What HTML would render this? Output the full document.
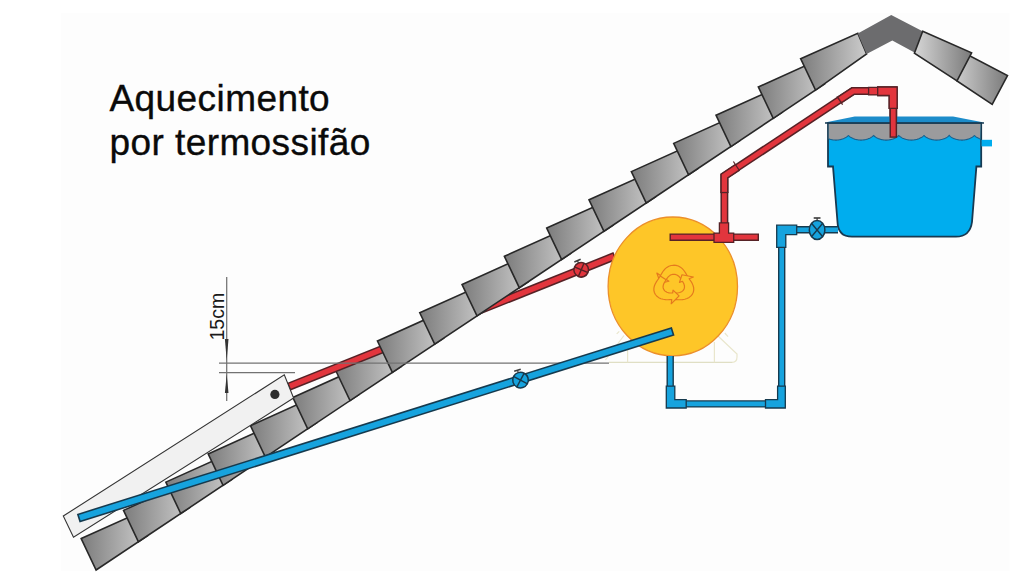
<!DOCTYPE html>
<html><head><meta charset="utf-8"><style>
html,body{margin:0;padding:0;background:#ffffff;overflow:hidden}
svg{display:block}
</style></head><body>
<svg width="1024" height="576" viewBox="0 0 1024 576"><defs>
<linearGradient id="tl" x1="0" y1="0" x2="1" y2="0">
<stop offset="0" stop-color="#7c7c7c"/><stop offset="1" stop-color="#cccccc"/></linearGradient>
<linearGradient id="tr" x1="0" y1="0" x2="1" y2="0">
<stop offset="0" stop-color="#d6d6d6"/><stop offset="1" stop-color="#7a7a7a"/></linearGradient>
</defs>
<rect x="0" y="0" width="1024" height="576" fill="#ffffff"/>
<rect x="61" y="13" width="948.5" height="558" fill="#fdfdfd"/>
<polygon points="81.20,538.60 138.60,512.80 147.50,535.70 96.10,570.00" fill="url(#tl)" stroke="#282828" stroke-width="1.6"/>
<polygon points="123.52,510.37 180.92,484.57 189.82,507.47 138.42,541.77" fill="url(#tl)" stroke="#282828" stroke-width="1.6"/>
<polygon points="165.84,482.14 223.24,456.34 232.14,479.24 180.74,513.54" fill="url(#tl)" stroke="#282828" stroke-width="1.6"/>
<polygon points="208.16,453.91 265.56,428.11 274.46,451.01 223.06,485.31" fill="url(#tl)" stroke="#282828" stroke-width="1.6"/>
<polygon points="250.48,425.68 307.88,399.88 316.78,422.78 265.38,457.08" fill="url(#tl)" stroke="#282828" stroke-width="1.6"/>
<polygon points="292.80,397.45 350.20,371.65 359.10,394.55 307.70,428.85" fill="url(#tl)" stroke="#282828" stroke-width="1.6"/>
<polygon points="335.12,369.22 392.52,343.42 401.42,366.32 350.02,400.62" fill="url(#tl)" stroke="#282828" stroke-width="1.6"/>
<line x1="288.50" y1="386.80" x2="615.00" y2="256.00" stroke="#562226" stroke-width="8.4"/>
<line x1="289.80" y1="386.28" x2="613.70" y2="256.52" stroke="#e2353d" stroke-width="5.3"/>
<polygon points="377.44,340.99 434.84,315.19 443.74,338.09 392.34,372.39" fill="url(#tl)" stroke="#282828" stroke-width="1.6"/>
<polygon points="419.76,312.76 477.16,286.96 486.06,309.86 434.66,344.16" fill="url(#tl)" stroke="#282828" stroke-width="1.6"/>
<polygon points="462.08,284.53 519.48,258.73 528.38,281.63 476.98,315.93" fill="url(#tl)" stroke="#282828" stroke-width="1.6"/>
<polygon points="504.40,256.30 561.80,230.50 570.70,253.40 519.30,287.70" fill="url(#tl)" stroke="#282828" stroke-width="1.6"/>
<polygon points="546.72,228.07 604.12,202.27 613.02,225.17 561.62,259.47" fill="url(#tl)" stroke="#282828" stroke-width="1.6"/>
<polygon points="589.04,199.84 646.44,174.04 655.34,196.94 603.94,231.24" fill="url(#tl)" stroke="#282828" stroke-width="1.6"/>
<polygon points="631.36,171.61 688.76,145.81 697.66,168.71 646.26,203.01" fill="url(#tl)" stroke="#282828" stroke-width="1.6"/>
<polygon points="673.68,143.38 731.08,117.58 739.98,140.48 688.58,174.78" fill="url(#tl)" stroke="#282828" stroke-width="1.6"/>
<polygon points="716.00,115.15 773.40,89.35 782.30,112.25 730.90,146.55" fill="url(#tl)" stroke="#282828" stroke-width="1.6"/>
<polygon points="758.32,86.92 815.72,61.12 824.62,84.02 773.22,118.32" fill="url(#tl)" stroke="#282828" stroke-width="1.6"/>
<polygon points="800.64,58.69 857.80,33.20 866.60,54.00 815.54,90.09" fill="url(#tl)" stroke="#282828" stroke-width="1.6"/>
<polygon points="857.80,33.40 891.25,15.00 922.60,31.25 914.50,52.60 892.30,40.60 866.60,54.00" fill="#6c6c6e"/>
<polygon points="950.00,45.50 1007.50,75.50 992.20,104.40 957.00,80.90" fill="url(#tr)" stroke="#282828" stroke-width="1.6"/>
<polygon points="922.70,31.25 971.60,52.80 957.00,80.90 914.40,53.10" fill="url(#tr)" stroke="#282828" stroke-width="1.6"/>
<polygon points="63.30,516.00 284.30,374.90 293.60,398.00 73.50,537.30" fill="#f1f1f1" stroke="#333" stroke-width="1.1"/>
<circle cx="274.9" cy="394.4" r="4.6" fill="#2e2e2e"/>
<g stroke="#727272" stroke-width="1.25"><line x1="226.7" y1="277" x2="226.7" y2="401"/><line x1="219" y1="363.0" x2="609" y2="363.0"/><line x1="219" y1="372.7" x2="295" y2="372.7"/></g>
<polygon points="224.9,339 228.5,339 226.7,360.5" fill="#333"/>
<polygon points="224.9,393 228.5,393 226.7,374.3" fill="#333"/>
<text x="0" y="0" transform="translate(224.2,340.6) rotate(-90)" font-family="Liberation Sans, sans-serif" font-size="19.6" fill="#1a1a1a">15cm</text>
<line x1="609" y1="362.3" x2="732" y2="362.3" stroke="#e0dfc4" stroke-width="1.3"/>
<g stroke="#e9e6cc" stroke-width="1.2" fill="none"><path d="M732,362.3 Q737,362.3 737,357 L737,354 L718,336"/><line x1="605.4" y1="360" x2="624" y2="335.5"/><line x1="627.6" y1="343" x2="627.6" y2="362.3"/><line x1="714.4" y1="342" x2="714.4" y2="362.3"/><line x1="724.8" y1="333" x2="728" y2="336.7"/><line x1="616.7" y1="333.9" x2="619.3" y2="331.3"/></g>
<ellipse cx="672.8" cy="286.4" rx="64.7" ry="69.4" fill="#fec628" stroke="#ec8f2a" stroke-width="1.3"/>
<g transform="translate(673.8,284.6) scale(1.1,1.0)" fill="#fec628" stroke="#e57a1e" stroke-width="1.1" stroke-linejoin="round"><path d="M13.63,-6.36 L12.76,-7.83 L11.93,-9.36 L11.09,-10.96 L10.15,-12.64 L9.03,-14.33 L7.67,-15.96 L6.03,-17.39 L4.12,-18.52 L2.02,-19.22 L-0.19,-19.43 L-2.39,-19.13 L-4.46,-18.35 L-6.32,-17.17 L-7.92,-15.69 L-9.24,-14.05 L-10.32,-12.35 L-11.24,-10.68 L-12.07,-9.09 L-15.42,-11.62 L-12.16,-1.49 L-4.47,-3.37 L-6.81,-5.13 L-6.30,-5.99 L-5.73,-6.86 L-5.08,-7.72 L-4.31,-8.53 L-3.41,-9.25 L-2.39,-9.82 L-1.27,-10.20 L-0.10,-10.34 L1.08,-10.24 L2.21,-9.90 L3.24,-9.36 L4.16,-8.66 L4.95,-7.86 L5.63,-7.00 L6.20,-6.13 L6.72,-5.27 L7.21,-4.43 L7.70,-3.59Z"/><path d="M-1.31,14.98 L0.41,14.97 L2.14,15.01 L3.95,15.08 L5.87,15.11 L7.89,14.99 L9.98,14.62 L12.05,13.92 L13.97,12.83 L15.64,11.36 L16.92,9.55 L17.76,7.50 L18.13,5.31 L18.03,3.11 L17.55,0.99 L16.78,-0.98 L15.85,-2.76 L14.87,-4.39 L13.91,-5.90 L17.78,-7.55 L7.38,-9.79 L5.15,-2.19 L7.84,-3.33 L8.33,-2.46 L8.80,-1.53 L9.22,-0.54 L9.54,0.54 L9.72,1.67 L9.70,2.84 L9.47,4.00 L9.00,5.08 L8.33,6.05 L7.47,6.86 L6.49,7.49 L5.42,7.94 L4.33,8.22 L3.25,8.37 L2.21,8.44 L1.21,8.46 L0.23,8.46 L-0.74,8.46Z"/><path d="M-12.32,-8.63 L-13.16,-7.13 L-14.07,-5.65 L-15.04,-4.12 L-16.02,-2.47 L-16.93,-0.66 L-17.65,1.34 L-18.08,3.48 L-18.10,5.69 L-17.66,7.86 L-16.74,9.88 L-15.38,11.63 L-13.66,13.04 L-11.71,14.06 L-9.63,14.70 L-7.55,15.02 L-5.53,15.11 L-3.63,15.07 L-1.84,15.00 L-2.35,19.17 L4.79,11.28 L-0.68,5.56 L-1.04,8.46 L-2.04,8.45 L-3.07,8.39 L-4.15,8.25 L-5.24,8.00 L-6.31,7.58 L-7.31,6.98 L-8.19,6.20 L-8.90,5.26 L-9.40,4.19 L-9.68,3.04 L-9.73,1.87 L-9.58,0.73 L-9.28,-0.36 L-8.88,-1.37 L-8.41,-2.31 L-7.93,-3.19 L-7.44,-4.03 L-6.96,-4.87Z"/></g>
<line x1="78.20" y1="518.20" x2="673.20" y2="331.30" stroke="#163a4e" stroke-width="9.0"/>
<line x1="79.73" y1="517.72" x2="671.67" y2="331.78" stroke="#16a3de" stroke-width="5.9"/>
<line x1="669.50" y1="237.20" x2="759.00" y2="237.20" stroke="#562226" stroke-width="7.6"/>
<line x1="670.90" y1="237.20" x2="757.60" y2="237.20" stroke="#e2353d" stroke-width="4.7"/>
<path d="M724.4,224 L724.4,176 L853,91 L893.3,91 L893.3,137.8" fill="none" stroke="#562226" stroke-width="7.9" stroke-linejoin="miter"/>
<path d="M724.4,224 L724.4,176 L853,91 L893.3,91 L893.3,137.8" fill="none" stroke="#e2353d" stroke-width="4.9" stroke-linejoin="miter"/>
<polygon points="714.00,233.20 719.40,233.20 719.40,222.90 728.60,222.90 728.60,233.20 733.70,233.20 733.70,242.30 714.00,242.30" fill="#e2353d" stroke="#562226" stroke-width="1.3"/>
<line x1="720.6" y1="192.5" x2="728.2" y2="192.5" stroke="#562226" stroke-width="1.2"/>
<path d="M724.4,192.5 L724.4,176 L737.2,167.5" fill="none" stroke="#562226" stroke-width="8.2" stroke-linejoin="miter"/>
<path d="M724.4,192.5 L724.4,176 L737.2,167.5" fill="none" stroke="#e2353d" stroke-width="5.2" stroke-linejoin="miter"/>
<line x1="733.4" y1="161.5" x2="739.6" y2="170.9" stroke="#562226" stroke-width="1.2"/>
<line x1="720.4" y1="192.5" x2="728.4" y2="192.5" stroke="#562226" stroke-width="1.2"/>
<path d="M840.2,99.5 L853,91 L868.6,91" fill="none" stroke="#562226" stroke-width="8.2" stroke-linejoin="miter"/>
<path d="M840.2,99.5 L853,91 L868.6,91" fill="none" stroke="#e2353d" stroke-width="5.2" stroke-linejoin="miter"/>
<line x1="836.9" y1="96.3" x2="842.6" y2="104.7" stroke="#562226" stroke-width="1.2"/>
<polygon points="868.60,87.40 878.00,87.40 878.00,94.80 868.60,94.80" fill="#e2353d" stroke="#562226" stroke-width="1.3"/>
<polygon points="877.70,87.00 897.10,87.00 897.10,108.30 889.20,108.30 889.20,95.50 877.70,95.50" fill="#e2353d" stroke="#562226" stroke-width="1.3"/>
<path d="M828,123 L981.2,123 L981.2,166.5 L976.4,166.5 L972,222 Q970,236.7 956,236.7 L852,236.7 Q838,236.7 837.5,222 L833,166.5 L828,166.5 Z" fill="#00adee" stroke="#173a52" stroke-width="1.8"/>
<path d="M828.7,123.8 L980.5,123.8 L980.2,138.94 L979.7,138.76 L979.2,138.56 L978.7,138.34 L978.2,138.11 L977.7,137.86 L977.2,137.58 L976.7,137.29 L976.2,136.96 L975.7,136.60 L975.2,136.20 L974.7,135.72 L974.2,135.60 L973.7,136.11 L973.2,136.53 L972.7,136.89 L972.2,137.22 L971.7,137.53 L971.2,137.80 L970.7,138.06 L970.2,138.30 L969.7,138.52 L969.2,138.72 L968.7,138.91 L968.2,139.08 L967.7,139.24 L967.2,139.38 L966.7,139.51 L966.2,139.63 L965.7,139.73 L965.2,139.82 L964.7,139.90 L964.2,139.96 L963.7,140.01 L963.2,140.05 L962.7,140.08 L962.2,140.10 L961.7,140.10 L961.2,140.09 L960.7,140.07 L960.2,140.04 L959.7,139.99 L959.2,139.94 L958.7,139.87 L958.2,139.78 L957.7,139.69 L957.2,139.58 L956.7,139.46 L956.2,139.33 L955.7,139.18 L955.2,139.01 L954.7,138.84 L954.2,138.64 L953.7,138.43 L953.2,138.21 L952.7,137.96 L952.2,137.70 L951.7,137.41 L951.2,137.09 L950.7,136.75 L950.2,136.37 L949.7,135.92 L949.2,135.30 L948.7,135.92 L948.2,136.37 L947.7,136.75 L947.2,137.09 L946.7,137.41 L946.2,137.70 L945.7,137.96 L945.2,138.21 L944.7,138.43 L944.2,138.64 L943.7,138.84 L943.2,139.01 L942.7,139.18 L942.2,139.33 L941.7,139.46 L941.2,139.58 L940.7,139.69 L940.2,139.78 L939.7,139.87 L939.2,139.94 L938.7,139.99 L938.2,140.04 L937.7,140.07 L937.2,140.09 L936.7,140.10 L936.2,140.10 L935.7,140.08 L935.2,140.05 L934.7,140.01 L934.2,139.96 L933.7,139.90 L933.2,139.82 L932.7,139.73 L932.2,139.63 L931.7,139.51 L931.2,139.38 L930.7,139.24 L930.2,139.08 L929.7,138.91 L929.2,138.72 L928.7,138.52 L928.2,138.30 L927.7,138.06 L927.2,137.80 L926.7,137.53 L926.2,137.22 L925.7,136.89 L925.2,136.53 L924.7,136.11 L924.2,135.60 L923.7,135.72 L923.2,136.20 L922.7,136.60 L922.2,136.96 L921.7,137.29 L921.2,137.58 L920.7,137.86 L920.2,138.11 L919.7,138.34 L919.2,138.56 L918.7,138.76 L918.2,138.94 L917.7,139.11 L917.2,139.27 L916.7,139.41 L916.2,139.53 L915.7,139.65 L915.2,139.75 L914.7,139.83 L914.2,139.91 L913.7,139.97 L913.2,140.02 L912.7,140.06 L912.2,140.08 L911.7,140.10 L911.2,140.10 L910.7,140.09 L910.2,140.07 L909.7,140.03 L909.2,139.98 L908.7,139.92 L908.2,139.85 L907.7,139.77 L907.2,139.67 L906.7,139.56 L906.2,139.43 L905.7,139.30 L905.2,139.15 L904.7,138.98 L904.2,138.80 L903.7,138.60 L903.2,138.39 L902.7,138.16 L902.2,137.91 L901.7,137.64 L901.2,137.35 L900.7,137.03 L900.2,136.68 L899.7,136.28 L899.2,135.82 L898.7,135.47 L898.2,136.02 L897.7,136.45 L897.2,136.82 L896.7,137.16 L896.2,137.47 L895.7,137.75 L895.2,138.01 L894.7,138.25 L894.2,138.48 L893.7,138.68 L893.2,138.87 L892.7,139.05 L892.2,139.21 L891.7,139.35 L891.2,139.49 L890.7,139.60 L890.2,139.71 L889.7,139.80 L889.2,139.88 L888.7,139.95 L888.2,140.00 L887.7,140.05 L887.2,140.08 L886.7,140.09 L886.2,140.10 L885.7,140.09 L885.2,140.08 L884.7,140.05 L884.2,140.00 L883.7,139.95 L883.2,139.88 L882.7,139.80 L882.2,139.71 L881.7,139.60 L881.2,139.49 L880.7,139.35 L880.2,139.21 L879.7,139.05 L879.2,138.87 L878.7,138.68 L878.2,138.48 L877.7,138.25 L877.2,138.01 L876.7,137.75 L876.2,137.47 L875.7,137.16 L875.2,136.82 L874.7,136.45 L874.2,136.02 L873.7,135.47 L873.2,135.82 L872.7,136.28 L872.2,136.68 L871.7,137.03 L871.2,137.35 L870.7,137.64 L870.2,137.91 L869.7,138.16 L869.2,138.39 L868.7,138.60 L868.2,138.80 L867.7,138.98 L867.2,139.15 L866.7,139.30 L866.2,139.43 L865.7,139.56 L865.2,139.67 L864.7,139.77 L864.2,139.85 L863.7,139.92 L863.2,139.98 L862.7,140.03 L862.2,140.07 L861.7,140.09 L861.2,140.10 L860.7,140.10 L860.2,140.08 L859.7,140.06 L859.2,140.02 L858.7,139.97 L858.2,139.91 L857.7,139.83 L857.2,139.75 L856.7,139.65 L856.2,139.53 L855.7,139.41 L855.2,139.27 L854.7,139.11 L854.2,138.94 L853.7,138.76 L853.2,138.56 L852.7,138.34 L852.2,138.11 L851.7,137.86 L851.2,137.58 L850.7,137.29 L850.2,136.96 L849.7,136.60 L849.2,136.20 L848.7,135.72 L848.2,135.60 L847.7,136.11 L847.2,136.53 L846.7,136.89 L846.2,137.22 L845.7,137.53 L845.2,137.80 L844.7,138.06 L844.2,138.30 L843.7,138.52 L843.2,138.72 L842.7,138.91 L842.2,139.08 L841.7,139.24 L841.2,139.38 L840.7,139.51 L840.2,139.63 L839.7,139.73 L839.2,139.82 L838.7,139.90 L838.2,139.96 L837.7,140.01 L837.2,140.05 L836.7,140.08 L836.2,140.10 L835.7,140.10 L835.2,140.09 L834.7,140.07 L834.2,140.04 L833.7,139.99 L833.2,139.94 L832.7,139.87 L832.2,139.78 L831.7,139.69 L831.2,139.58 L830.7,139.46 L830.2,139.33 L829.7,139.18 L829.2,139.01 L828.7,138.84 Z" fill="#9b9b9d"/>
<path d="M828.7,138.84 L829.2,139.01 L829.7,139.18 L830.2,139.33 L830.7,139.46 L831.2,139.58 L831.7,139.69 L832.2,139.78 L832.7,139.87 L833.2,139.94 L833.7,139.99 L834.2,140.04 L834.7,140.07 L835.2,140.09 L835.7,140.10 L836.2,140.10 L836.7,140.08 L837.2,140.05 L837.7,140.01 L838.2,139.96 L838.7,139.90 L839.2,139.82 L839.7,139.73 L840.2,139.63 L840.7,139.51 L841.2,139.38 L841.7,139.24 L842.2,139.08 L842.7,138.91 L843.2,138.72 L843.7,138.52 L844.2,138.30 L844.7,138.06 L845.2,137.80 L845.7,137.53 L846.2,137.22 L846.7,136.89 L847.2,136.53 L847.7,136.11 L848.2,135.60 L848.7,135.72 L849.2,136.20 L849.7,136.60 L850.2,136.96 L850.7,137.29 L851.2,137.58 L851.7,137.86 L852.2,138.11 L852.7,138.34 L853.2,138.56 L853.7,138.76 L854.2,138.94 L854.7,139.11 L855.2,139.27 L855.7,139.41 L856.2,139.53 L856.7,139.65 L857.2,139.75 L857.7,139.83 L858.2,139.91 L858.7,139.97 L859.2,140.02 L859.7,140.06 L860.2,140.08 L860.7,140.10 L861.2,140.10 L861.7,140.09 L862.2,140.07 L862.7,140.03 L863.2,139.98 L863.7,139.92 L864.2,139.85 L864.7,139.77 L865.2,139.67 L865.7,139.56 L866.2,139.43 L866.7,139.30 L867.2,139.15 L867.7,138.98 L868.2,138.80 L868.7,138.60 L869.2,138.39 L869.7,138.16 L870.2,137.91 L870.7,137.64 L871.2,137.35 L871.7,137.03 L872.2,136.68 L872.7,136.28 L873.2,135.82 L873.7,135.47 L874.2,136.02 L874.7,136.45 L875.2,136.82 L875.7,137.16 L876.2,137.47 L876.7,137.75 L877.2,138.01 L877.7,138.25 L878.2,138.48 L878.7,138.68 L879.2,138.87 L879.7,139.05 L880.2,139.21 L880.7,139.35 L881.2,139.49 L881.7,139.60 L882.2,139.71 L882.7,139.80 L883.2,139.88 L883.7,139.95 L884.2,140.00 L884.7,140.05 L885.2,140.08 L885.7,140.09 L886.2,140.10 L886.7,140.09 L887.2,140.08 L887.7,140.05 L888.2,140.00 L888.7,139.95 L889.2,139.88 L889.7,139.80 L890.2,139.71 L890.7,139.60 L891.2,139.49 L891.7,139.35 L892.2,139.21 L892.7,139.05 L893.2,138.87 L893.7,138.68 L894.2,138.48 L894.7,138.25 L895.2,138.01 L895.7,137.75 L896.2,137.47 L896.7,137.16 L897.2,136.82 L897.7,136.45 L898.2,136.02 L898.7,135.47 L899.2,135.82 L899.7,136.28 L900.2,136.68 L900.7,137.03 L901.2,137.35 L901.7,137.64 L902.2,137.91 L902.7,138.16 L903.2,138.39 L903.7,138.60 L904.2,138.80 L904.7,138.98 L905.2,139.15 L905.7,139.30 L906.2,139.43 L906.7,139.56 L907.2,139.67 L907.7,139.77 L908.2,139.85 L908.7,139.92 L909.2,139.98 L909.7,140.03 L910.2,140.07 L910.7,140.09 L911.2,140.10 L911.7,140.10 L912.2,140.08 L912.7,140.06 L913.2,140.02 L913.7,139.97 L914.2,139.91 L914.7,139.83 L915.2,139.75 L915.7,139.65 L916.2,139.53 L916.7,139.41 L917.2,139.27 L917.7,139.11 L918.2,138.94 L918.7,138.76 L919.2,138.56 L919.7,138.34 L920.2,138.11 L920.7,137.86 L921.2,137.58 L921.7,137.29 L922.2,136.96 L922.7,136.60 L923.2,136.20 L923.7,135.72 L924.2,135.60 L924.7,136.11 L925.2,136.53 L925.7,136.89 L926.2,137.22 L926.7,137.53 L927.2,137.80 L927.7,138.06 L928.2,138.30 L928.7,138.52 L929.2,138.72 L929.7,138.91 L930.2,139.08 L930.7,139.24 L931.2,139.38 L931.7,139.51 L932.2,139.63 L932.7,139.73 L933.2,139.82 L933.7,139.90 L934.2,139.96 L934.7,140.01 L935.2,140.05 L935.7,140.08 L936.2,140.10 L936.7,140.10 L937.2,140.09 L937.7,140.07 L938.2,140.04 L938.7,139.99 L939.2,139.94 L939.7,139.87 L940.2,139.78 L940.7,139.69 L941.2,139.58 L941.7,139.46 L942.2,139.33 L942.7,139.18 L943.2,139.01 L943.7,138.84 L944.2,138.64 L944.7,138.43 L945.2,138.21 L945.7,137.96 L946.2,137.70 L946.7,137.41 L947.2,137.09 L947.7,136.75 L948.2,136.37 L948.7,135.92 L949.2,135.30 L949.7,135.92 L950.2,136.37 L950.7,136.75 L951.2,137.09 L951.7,137.41 L952.2,137.70 L952.7,137.96 L953.2,138.21 L953.7,138.43 L954.2,138.64 L954.7,138.84 L955.2,139.01 L955.7,139.18 L956.2,139.33 L956.7,139.46 L957.2,139.58 L957.7,139.69 L958.2,139.78 L958.7,139.87 L959.2,139.94 L959.7,139.99 L960.2,140.04 L960.7,140.07 L961.2,140.09 L961.7,140.10 L962.2,140.10 L962.7,140.08 L963.2,140.05 L963.7,140.01 L964.2,139.96 L964.7,139.90 L965.2,139.82 L965.7,139.73 L966.2,139.63 L966.7,139.51 L967.2,139.38 L967.7,139.24 L968.2,139.08 L968.7,138.91 L969.2,138.72 L969.7,138.52 L970.2,138.30 L970.7,138.06 L971.2,137.80 L971.7,137.53 L972.2,137.22 L972.7,136.89 L973.2,136.53 L973.7,136.11 L974.2,135.60 L974.7,135.72 L975.2,136.20 L975.7,136.60 L976.2,136.96 L976.7,137.29 L977.2,137.58 L977.7,137.86 L978.2,138.11 L978.7,138.34 L979.2,138.56 L979.7,138.76 L980.2,138.94" fill="none" stroke="#1d5f8a" stroke-width="1.1"/>
<polygon points="825,122.6 854.7,116.6 953.1,116.6 984,122.6" fill="#1c8cca"/>
<line x1="825" y1="123" x2="984" y2="123" stroke="#173a52" stroke-width="1.6"/>
<rect x="981.5" y="139.8" width="10.5" height="6.6" fill="#00adee"/>
<line x1="893.30" y1="104.00" x2="893.30" y2="137.80" stroke="#562226" stroke-width="7.6"/>
<line x1="893.30" y1="105.40" x2="893.30" y2="136.40" stroke="#e2353d" stroke-width="4.7"/>
<polygon points="877.70,87.00 897.10,87.00 897.10,108.30 889.20,108.30 889.20,95.50 877.70,95.50" fill="#e2353d" stroke="#562226" stroke-width="1.3"/>
<path d="M670.2,356 L670.2,403.9 L781.7,403.9 L781.7,229.7 L838,229.7" fill="none" stroke="#163a4e" stroke-width="7.4" stroke-linejoin="miter"/>
<path d="M670.2,356 L670.2,403.9 L781.7,403.9 L781.7,229.7 L838,229.7" fill="none" stroke="#16a3de" stroke-width="4.6" stroke-linejoin="miter"/>
<polygon points="666.30,386.10 674.80,386.10 674.80,399.60 686.20,399.60 686.20,408.00 666.30,408.00" fill="#16a3de" stroke="#163a4e" stroke-width="1.3"/>
<polygon points="765.50,399.60 777.60,399.60 777.60,386.10 785.30,386.10 785.30,408.00 765.50,408.00" fill="#16a3de" stroke="#163a4e" stroke-width="1.3"/>
<polygon points="776.70,225.20 796.70,225.20 796.70,234.70 785.80,234.70 785.80,247.30 776.70,247.30" fill="#16a3de" stroke="#163a4e" stroke-width="1.3"/>
<g transform="translate(581.2,269.8) rotate(-22)"><ellipse rx="7.3" ry="7.3" fill="#e2353d" stroke="#562226" stroke-width="1.5"/><line x1="-5.26" y1="-5.26" x2="5.26" y2="5.26" stroke="#562226" stroke-width="1.4"/><line x1="-5.26" y1="5.26" x2="5.26" y2="-5.26" stroke="#562226" stroke-width="1.4"/><line x1="0" y1="-7.3" x2="0" y2="-9.9" stroke="#3a3a3a" stroke-width="1.2"/><line x1="-3.4" y1="-9.9" x2="3.4" y2="-9.9" stroke="#3a3a3a" stroke-width="1.6"/></g>
<g transform="translate(520.5,380.1) rotate(-17)"><ellipse rx="7.8" ry="7.8" fill="#16a3de" stroke="#163a4e" stroke-width="1.5"/><line x1="-5.62" y1="-5.62" x2="5.62" y2="5.62" stroke="#163a4e" stroke-width="1.4"/><line x1="-5.62" y1="5.62" x2="5.62" y2="-5.62" stroke="#163a4e" stroke-width="1.4"/><line x1="0" y1="-7.8" x2="0" y2="-10.4" stroke="#3a3a3a" stroke-width="1.2"/><line x1="-3.4" y1="-10.4" x2="3.4" y2="-10.4" stroke="#3a3a3a" stroke-width="1.6"/></g>
<g transform="translate(817.1,230) rotate(0)"><ellipse rx="7.8" ry="9.4" fill="#16a3de" stroke="#163a4e" stroke-width="1.5"/><line x1="-5.62" y1="-6.77" x2="5.62" y2="6.77" stroke="#163a4e" stroke-width="1.4"/><line x1="-5.62" y1="6.77" x2="5.62" y2="-6.77" stroke="#163a4e" stroke-width="1.4"/><line x1="0" y1="-9.4" x2="0" y2="-12.0" stroke="#3a3a3a" stroke-width="1.2"/><line x1="-3.4" y1="-12.0" x2="3.4" y2="-12.0" stroke="#3a3a3a" stroke-width="1.6"/></g>
<text font-family="Liberation Sans, sans-serif" font-size="37" letter-spacing="0.42" fill="#0a0a0a" stroke="#0a0a0a" stroke-width="0.35"><tspan x="109.5" y="111">Aquecimento</tspan><tspan x="109.5" y="155.1">por termossifão</tspan></text></svg>
</body></html>
